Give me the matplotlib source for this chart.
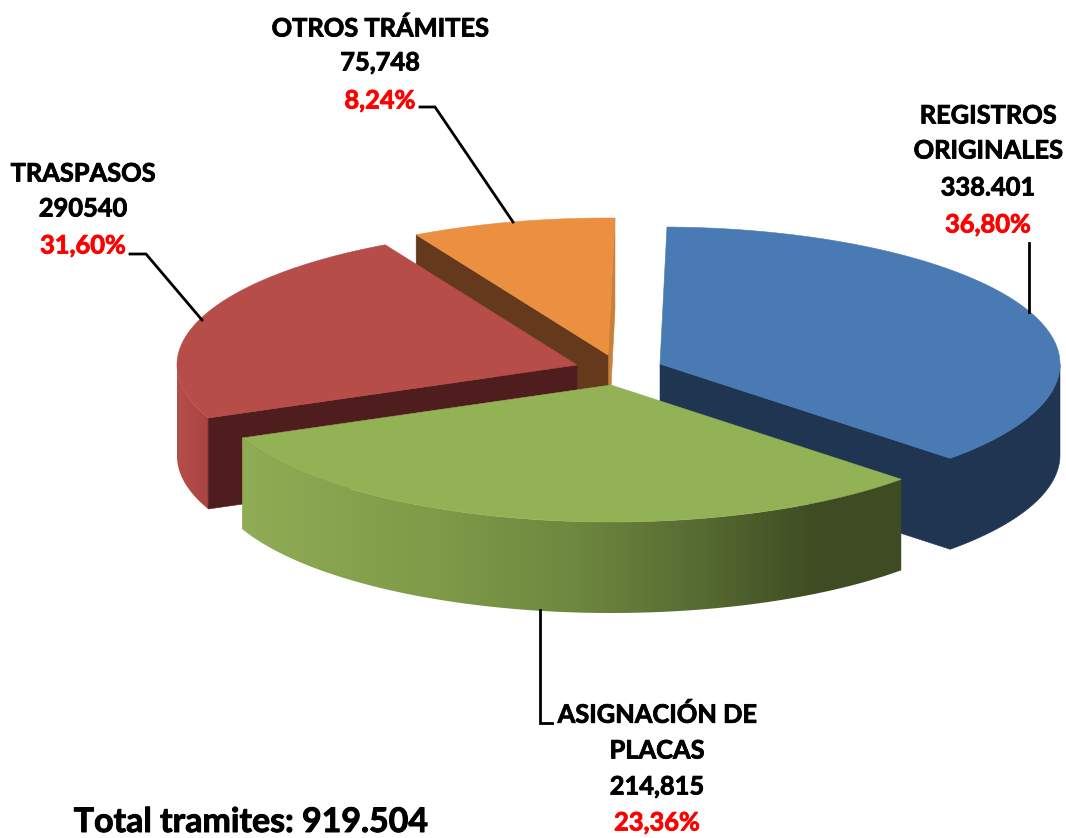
import numpy as np
import matplotlib
matplotlib.use("Agg")
import matplotlib.pyplot as plt
import matplotlib.patheffects as pe
from matplotlib.colors import LinearSegmentedColormap
from matplotlib.patches import Polygon

# Slices in drawn order, clockwise from the top
slice_names = ["REGISTROS ORIGINALES", "slice 2", "slice 3", "OTROS TRÁMITES"]
slice_values = [338401, 290540, 214815, 75748]

label_otros = ["OTROS TRÁMITES", "75,748", "8,24%"]
label_registros = ["REGISTROS", "ORIGINALES", "338.401", "36,80%"]
label_traspasos = ["TRASPASOS", "290540", "31,60%"]
label_asignacion = ["ASIGNACIÓN DE", "PLACAS", "214,815", "23,36%"]
total_text = "Total tramites: 919.504"

plt.rcParams["font.family"] = ["Lato", "DejaVu Sans"]
plt.rcParams["font.weight"] = "bold"

fig = plt.figure(figsize=(10.66, 8.38), dpi=100)
ax = fig.add_axes([0, 0, 1, 1])
ax.set_xlim(0, 1066)
ax.set_ylim(838, 0)
ax.axis("off")

RX, RY, DEPTH = 400, 137, 91
START = 89.0
values = np.array(slice_values, float)
sweeps = values / values.sum() * 360
ends = START - np.cumsum(sweeps)
starts = ends + sweeps

apex = {"blue": (660, 364), "green": (611, 385), "red": (577, 365), "orange": (608, 355)}


def arc(c, a0, a1, n=160):
    t = np.radians(np.linspace(a0, a1, n))
    return np.column_stack([c[0] + RX * np.cos(t), c[1] - RY * np.sin(t)])


def poly(pts, color, z):
    ax.add_patch(Polygon(pts, closed=True, fc=color, ec=color, lw=0.4, zorder=z))


def down(pts):
    return pts + np.array([0, DEPTH])


def wedge(c, a0, a1):
    return np.vstack([[c], arc(c, a0, a1)])


def radial_wall(c, a, color, z):
    p = arc(c, a, a, 1)[0]
    pts = np.array([c, p])
    poly(np.vstack([pts, down(pts)[::-1]]), color, z)


# blue (back right): outer rim and cut face as one dark shape
c = apex["blue"]
rim_pts = arc(c, 0, ends[0])
poly(np.vstack([rim_pts, [c], [c[0], c[1] + DEPTH], down(rim_pts)[::-1]]), "#1F3552", 1)
poly(wedge(c, starts[0], ends[0]), "#4A7AB4", 1.2)

# orange (back)
c = apex["orange"]
radial_wall(c, ends[3], "#C9803A", 2)
radial_wall(c, starts[3], "#653A1C", 2.1)
poly(wedge(c, starts[3], ends[3]), "#EB8F40", 2.2)

# red (left)
c = apex["red"]
rim_pts = arc(c, -180, starts[2])
red_rim = Polygon(np.vstack([rim_pts, down(rim_pts)[::-1]]), closed=True, fc="none", ec="none")
ax.add_patch(red_rim)
red_cmap = LinearSegmentedColormap.from_list("r", ["#B64E4A", "#A84441"])
im = ax.imshow(np.linspace(0, 1, 64)[None, :], extent=[177, 210, 540, 340], cmap=red_cmap,
               aspect="auto", zorder=3)
im.set_clip_path(red_rim)
radial_wall(c, starts[2], "#4F1D1D", 3.1)
poly(wedge(c, starts[2], ends[2]), "#B74D49", 3.2)

# green (front)
c = apex["green"]
rim_pts = arc(c, starts[1], ends[1])
green_rim = Polygon(np.vstack([rim_pts, down(rim_pts)[::-1]]), closed=True, fc="none", ec="none")
ax.add_patch(green_rim)
green_cmap = LinearSegmentedColormap.from_list(
    "g", [(0, "#90AC54"), (0.3, "#7F9A48"), (0.5, "#6E883F"), (0.68, "#586D33"),
          (0.87, "#3F4C23"), (1, "#3F4C23")])
im = ax.imshow(np.linspace(0, 1, 256)[None, :], extent=[241, 903, 620, 430], cmap=green_cmap,
               aspect="auto", zorder=4)
im.set_clip_path(green_rim)
poly(wedge(c, starts[1], ends[1]), "#93B155", 4.2)

ax.set_xlim(0, 1066)
ax.set_ylim(838, 0)

# leader lines
for xs, ys in [([420, 435, 513], [107, 107, 222]),
               ([130, 146, 202], [254, 254, 320]),
               ([1029, 1029], [243, 312]),
               ([540, 540, 552], [610, 723, 723])]:
    ax.plot(xs, ys, color="black", lw=2.0, zorder=5, solid_joinstyle="miter")


def put(x, y, s, col, size, stroke):
    ax.text(x, y, s, ha="center", va="center", color=col, fontsize=size, fontweight="bold", zorder=6,
            path_effects=[pe.withStroke(linewidth=stroke, foreground=col)])


def stack(lines, x, ys):
    for i, (s, y) in enumerate(zip(lines, ys)):
        put(x, y, s, "#FF0000" if i == len(lines) - 1 else "#000000", 18.3, 0.6)


stack(label_otros, 380, [29, 63, 101])
stack(label_registros, 988, [116, 151, 188, 225])
stack(label_traspasos, 83, [174, 209, 246])
stack(label_asignacion, 657, [715, 751, 787, 823])
put(251, 822, total_text, "#000000", 24.4, 0.7)

fig.savefig("out.png", dpi=100, facecolor="white")
